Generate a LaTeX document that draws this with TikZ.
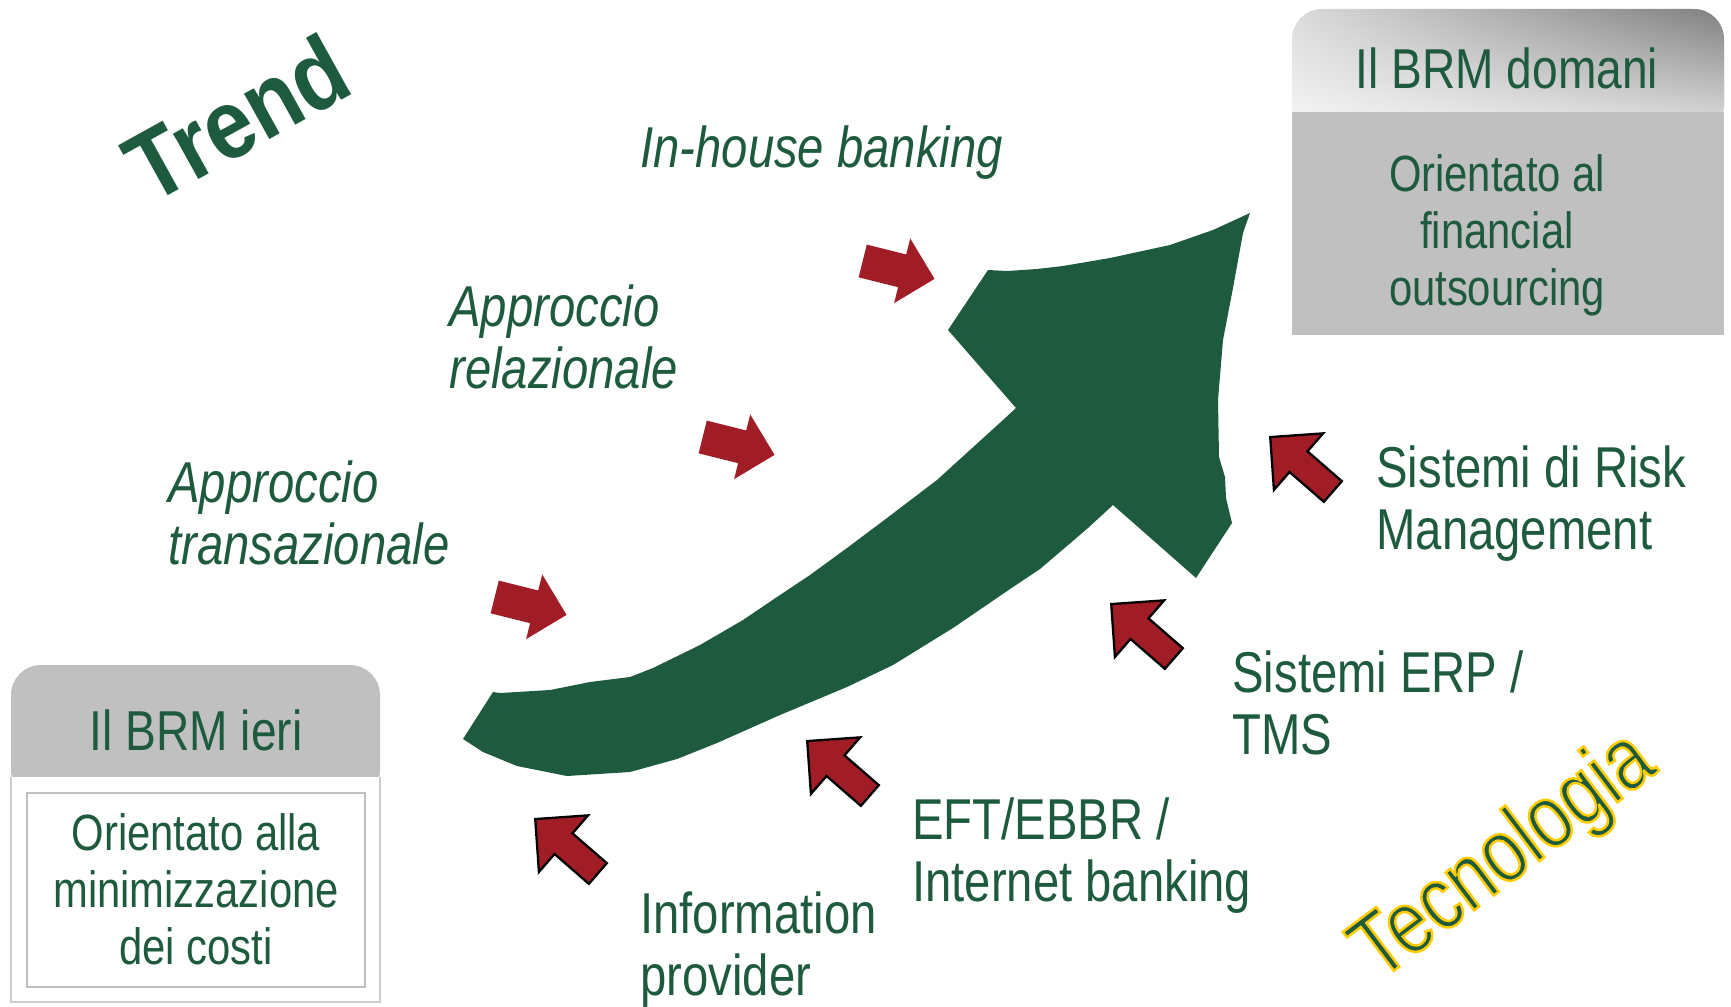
\documentclass[tikz,border=0pt]{standalone}
\usepackage{fontspec}
\setmainfont{Liberation Sans}[FakeStretch=0.82]
\newfontfamily\trendfont{Liberation Sans}[FakeStretch=0.88]
\definecolor{brmgreen}{RGB}{30, 90, 61}
\definecolor{brmred}{RGB}{160, 29, 37}
\definecolor{boxgray}{RGB}{192, 192, 192}
\definecolor{edgegray}{RGB}{205, 205, 205}
\usetikzlibrary{shapes.arrows, fadings}
% outlined glyphs: fill with the text colour, stroke in yellow
\newcommand{\glowtext}[1]{\special{pdf:literal direct 2 Tr 1.4 w 1 0.8 0 RG}#1\special{pdf:literal direct 0 Tr}}
\tikzset{
	drivertext/.style={anchor=north west, inner sep=0pt, align=left, text=brmgreen, font=\itshape\fontsize{32.8}{35.7}\selectfont},
	techtext/.style={anchor=north west, inner sep=0pt, align=left, text=brmgreen, font=\fontsize{32.8}{35.7}\selectfont},
	headtext/.style={inner sep=0pt, text=brmgreen, font=\fontsize{32}{36}\selectfont},
	bodytext/.style={inner sep=0pt, align=center, text=brmgreen, font=\fontsize{29}{32.5}\selectfont},
	techword/.style={rotate=37, inner sep=0pt, text=brmgreen, font=\fontsize{51}{55}\selectfont},
	pusharrow/.style={single arrow, fill=brmred, inner sep=0pt, inner ysep=0.33cm, single arrow head extend=0.33cm, minimum height=1.48cm, minimum width=1.32cm, rotate=-14, anchor=tip},
	techarrow/.style={single arrow, fill=brmred, draw=black, line width=1.3pt, inner sep=0pt, inner ysep=0.19cm, single arrow head extend=0.37cm, minimum height=1.66cm, minimum width=1.5cm, rotate=139, anchor=tip},
}

\begin{document}
\begin{tikzpicture}[x=0.02cm, y=-0.02cm]
	\useasboundingbox (0,0) rectangle (1731,1007);

	% boxes
	\fill[boxgray, rounded corners=0.6cm] (11,665) rectangle (380,800);
	\fill[white] (11,777) rectangle (380,1002);
	\draw[edgegray, line width=0.8pt] (11,777) -- (11,1002) -- (380,1002) -- (380,777);
	\draw[boxgray, line width=1.4pt] (27,793) rectangle (365,987);
	\shade[left color=black!14, right color=black!50, rounded corners=0.6cm] (1292,9) rectangle (1724,135);
	\fill[white, fill opacity=0.65, path fading=north] (1292,9) rectangle (1724,112);
	\fill[boxgray] (1292,112) rectangle (1724,335);

	\node[headtext] (ieri) at (196,730) {Il BRM ieri};
	\node[bodytext] (costi) at (196,889) {Orientato alla\\minimizzazione\\dei costi};
	\node[headtext] (domani) at (1507,68) {Il BRM domani};
	\node[bodytext] (outsrc) at (1497,235) {Orientato al\\financial\\outsourcing};

	% big arrow
	\fill[brmgreen] (493,692) -- (463,739) -- (483,752) -- (517,766) -- (567,776) -- (630,772)
		-- (677,759) -- (717,743) -- (780,715) -- (847,687) -- (893,665) -- (953,628)
		-- (1013,587) -- (1040,569) -- (1088,528) -- (1113,505) -- (1196,578) -- (1232,523)
		-- (1226,498) -- (1225,477) -- (1219,457) -- (1218,400) -- (1223,340) -- (1233,288)
		-- (1243,233) -- (1250,213) -- (1213,230) -- (1170,245) -- (1110,258) -- (1063,266)
		-- (1037,269) -- (1007,271) -- (988,270) -- (948,330) -- (1016,408) -- (1003,420)
		-- (937,480) -- (887,518) -- (847,548) -- (810,575) -- (780,595) -- (743,620)
		-- (700,645) -- (653,668) -- (630,677) -- (590,682) -- (550,690) -- (500,693) -- cycle;

	\node[rotate=29, inner sep=0pt, text=brmgreen, font=\trendfont\bfseries\fontsize{56}{60}\selectfont] (trend) at (237,118) {Trend};

	\node[drivertext, anchor=base west] (inhouse) at (640,168) {In-house banking};
	\node[drivertext] (relaz) at (449,284) {Approccio\\relazionale};
	\node[drivertext] (transaz) at (168,460) {Approccio\\transazionale};
	\node[pusharrow] (p1) at (567,615) {};
	\node[pusharrow] (p2) at (775,455) {};
	\node[pusharrow] (p3) at (935,279) {};

	\node[techtext] (risk) at (1376,445) {Sistemi di Risk\\Management};
	\node[techtext] (erp) at (1232,650) {Sistemi ERP /\\TMS};
	\node[techtext] (eft) at (912,797) {EFT/EBBR /\\Internet banking};
	\node[techtext] (info) at (640,891) {Information\\provider};
	\node[techarrow] (a1) at (1269,436) {};
	\node[techarrow] (a2) at (1110,603) {};
	\node[techarrow] (a3) at (806,740) {};
	\node[techarrow] (a4) at (534,818) {};

	\node[techword] (tecno) at (1505,858) {\glowtext{Tecnologia}};
\end{tikzpicture}
\end{document}
